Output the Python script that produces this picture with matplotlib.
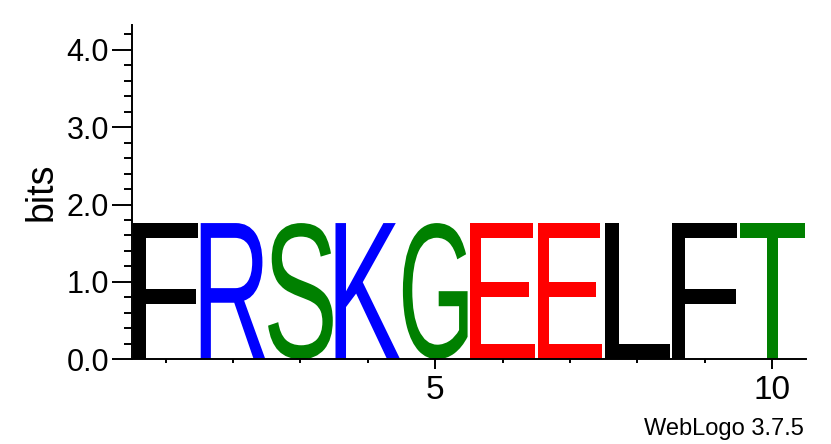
import matplotlib
matplotlib.use("Agg")
import matplotlib.pyplot as plt
from matplotlib.textpath import TextPath
from matplotlib.patches import PathPatch
from matplotlib.font_manager import FontProperties
from matplotlib.transforms import Affine2D
from matplotlib.ticker import MultipleLocator, FixedLocator

# sequence logo data: one letter per position, height in bits
positions = [1, 2, 3, 4, 5, 6, 7, 8, 9, 10]
letters = ["F", "R", "S", "K", "G", "E", "E", "L", "F", "T"]
heights = [1.76, 1.76, 1.76, 1.76, 1.76, 1.76, 1.76, 1.76, 1.76, 1.76]
colors = ["black", "blue", "green", "blue", "green",
          "red", "red", "black", "black", "green"]
y_ticks = [0, 1, 2, 3, 4]
y_ticklabels = ["0.0", "1.0", "2.0", "3.0", "4.0"]
x_ticks = [5, 10]

y_max = 4.32
font = "Liberation Sans"

fig = plt.figure(figsize=(8.31, 4.44), dpi=100)
ax = fig.add_axes([0.1588, 0.1908, 0.811, 0.753])

glyph_font = FontProperties(family=font)
margin = 0.02
for pos, letter, h, col in zip(positions, letters, heights, colors):
    tp = TextPath((0, 0), letter, size=1, prop=glyph_font)
    bb = tp.get_extents()
    left = pos - 0.5 + margin
    w = 1 - 2 * margin
    tr = (Affine2D().translate(-bb.x0, -bb.y0)
          .scale(w / bb.width, h / bb.height)
          .translate(left, 0))
    patch = PathPatch(tr.transform_path(tp), facecolor=col,
                      edgecolor="none")
    ax.add_patch(patch)

ax.set_xlim(0.5, 10.5)
ax.set_ylim(0, y_max)

for side in ["top", "right"]:
    ax.spines[side].set_visible(False)
for side in ["left", "bottom"]:
    ax.spines[side].set_linewidth(1.4)

ax.yaxis.set_major_locator(FixedLocator(y_ticks))
ax.yaxis.set_minor_locator(MultipleLocator(0.2))
ax.set_yticklabels(y_ticklabels)
ax.xaxis.set_major_locator(FixedLocator(x_ticks))
ax.xaxis.set_minor_locator(FixedLocator(positions))

ax.tick_params(axis="y", which="major", length=14.5, width=1.4,
               labelsize=22, pad=2)
ax.tick_params(axis="y", which="minor", length=6, width=1.4)
ax.tick_params(axis="x", which="major", length=7, width=1.4,
               labelsize=24, pad=4)
ax.tick_params(axis="x", which="minor", length=3, width=1.4)
for lab in ax.get_xticklabels() + ax.get_yticklabels():
    lab.set_fontfamily(font)

ax.set_ylabel("bits", fontsize=27, fontfamily=font, labelpad=5)

fig.text(804 / 831, 1 - 435 / 444, "WebLogo 3.7.5", ha="right",
         va="baseline", fontsize=17, fontfamily=font)

fig.savefig("out.png", dpi=100)
